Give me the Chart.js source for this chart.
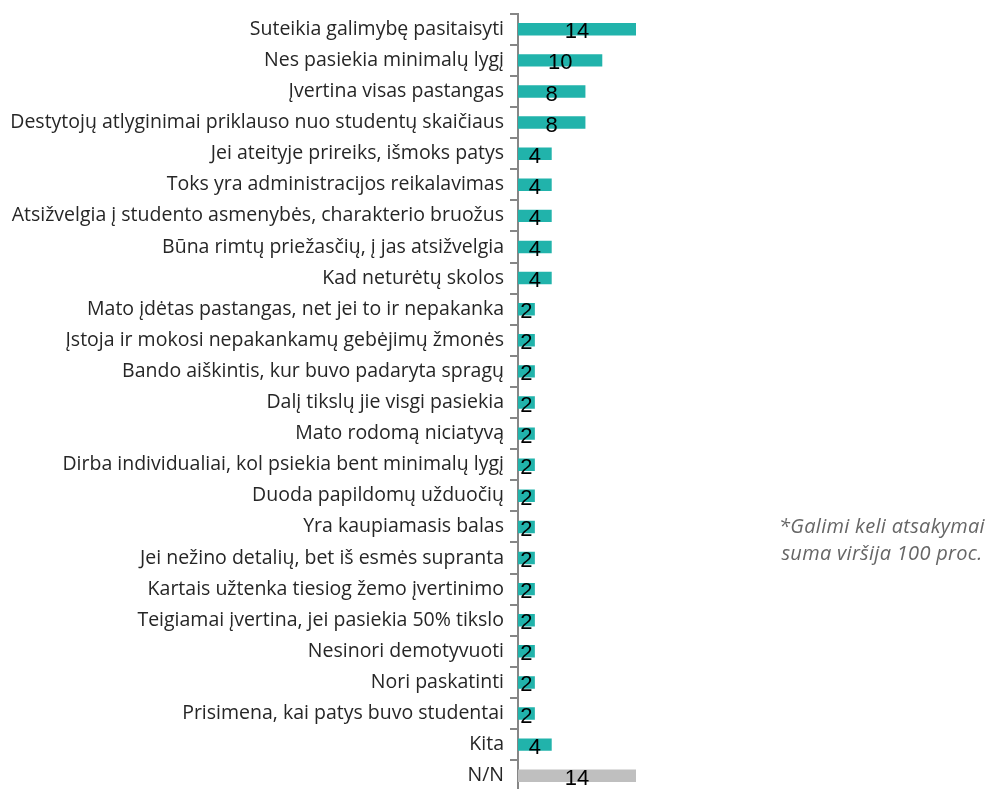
<!DOCTYPE html>
<html>
<head>
<meta charset="utf-8">
<script src="https://cdn.jsdelivr.net/npm/chart.js@4"></script>
<style>
  html, body { margin: 0; padding: 0; background: #fff; overflow: hidden; }
  #wrap { position: relative; width: 993px; height: 789px; overflow: hidden; }
  #chart { position: absolute; left: 0; top: -4px; }
  #note {
    position: absolute; left: 764px; top: 512px; width: 236px;
    font: italic 20px "Open Sans", sans-serif; color: #666;
    letter-spacing: 0.3px; text-align: center; line-height: 27px;
  }
</style>
</head>
<body>
<div id="wrap">
  <canvas id="chart" width="993" height="813"></canvas>
  <div id="note">*Galimi keli atsakymai<br>suma viršija 100 proc.</div>
</div>
<script>
const categories = [
    'Suteikia galimybę pasitaisyti',
    'Nes pasiekia minimalų lygį',
    'Įvertina visas pastangas',
    'Destytojų atlyginimai priklauso nuo studentų skaičiaus',
    'Jei ateityje prireiks, išmoks patys',
    'Toks yra administracijos reikalavimas',
    'Atsižvelgia į studento asmenybės, charakterio bruožus',
    'Būna rimtų priežasčių, į jas atsižvelgia',
    'Kad neturėtų skolos',
    'Mato įdėtas pastangas, net jei to ir nepakanka',
    'Įstoja ir mokosi nepakankamų gebėjimų žmonės',
    'Bando aiškintis, kur buvo padaryta spragų',
    'Dalį tikslų jie visgi pasiekia',
    'Mato rodomą niciatyvą',
    'Dirba individualiai, kol psiekia bent minimalų lygį',
    'Duoda papildomų užduočių',
    'Yra kaupiamasis balas',
    'Jei nežino detalių, bet iš esmės supranta',
    'Kartais užtenka tiesiog žemo įvertinimo',
    'Teigiamai įvertina, jei pasiekia 50% tikslo',
    'Nesinori demotyvuoti',
    'Nori paskatinti',
    'Prisimena, kai patys buvo studentai',
    'Kita',
    'N/N'
];
const values = [14, 10, 8, 8, 4, 4, 4, 4, 4, 2, 2, 2, 2, 2, 2, 2, 2, 2, 2, 2, 2, 2, 2, 4, 14];

const TEAL = '#21b3ab';
const GREY = '#bfbfbf';

// numbers drawn in the middle of each bar
const barLabels = {
    id: 'barLabels',
    afterDatasetsDraw(chart) {
        const ctx = chart.ctx;
        const meta = chart.getDatasetMeta(0);
        ctx.save();
        ctx.font = '22px "Liberation Sans", sans-serif';
        ctx.fillStyle = '#000';
        ctx.textAlign = 'center';
        ctx.textBaseline = 'middle';
        meta.data.forEach((bar, i) => {
            ctx.fillText(String(values[i]), (bar.x + bar.base) / 2, bar.y + 3);
        });
        ctx.restore();
    }
};

new Chart(document.getElementById('chart'), {
    type: 'bar',
    data: {
        labels: categories,
        datasets: [{
            data: values,
            backgroundColor: values.map((v, i) => categories[i] === 'N/N' ? GREY : TEAL),
            categoryPercentage: 1,
            barPercentage: 0.4
        }]
    },
    options: {
        indexAxis: 'y',
        responsive: false,
        animation: false,
        layout: { padding: { top: 9, right: 357, bottom: 0, left: 0 } },
        plugins: { legend: { display: false }, tooltip: { enabled: false } },
        scales: {
            x: { display: false, min: 0, max: 14 },
            y: {
                afterFit: s => { s.width = 518; },
                border: { color: '#868686', width: 2 },
                grid: { drawOnChartArea: false, color: '#868686', tickLength: 8, lineWidth: 2 },
                ticks: {
                    color: '#262626',
                    padding: 6,
                    autoSkip: false,
                    font: { family: '"Open Sans", sans-serif', size: 19.5 }
                }
            }
        }
    },
    plugins: [barLabels]
});
</script>
</body>
</html>
